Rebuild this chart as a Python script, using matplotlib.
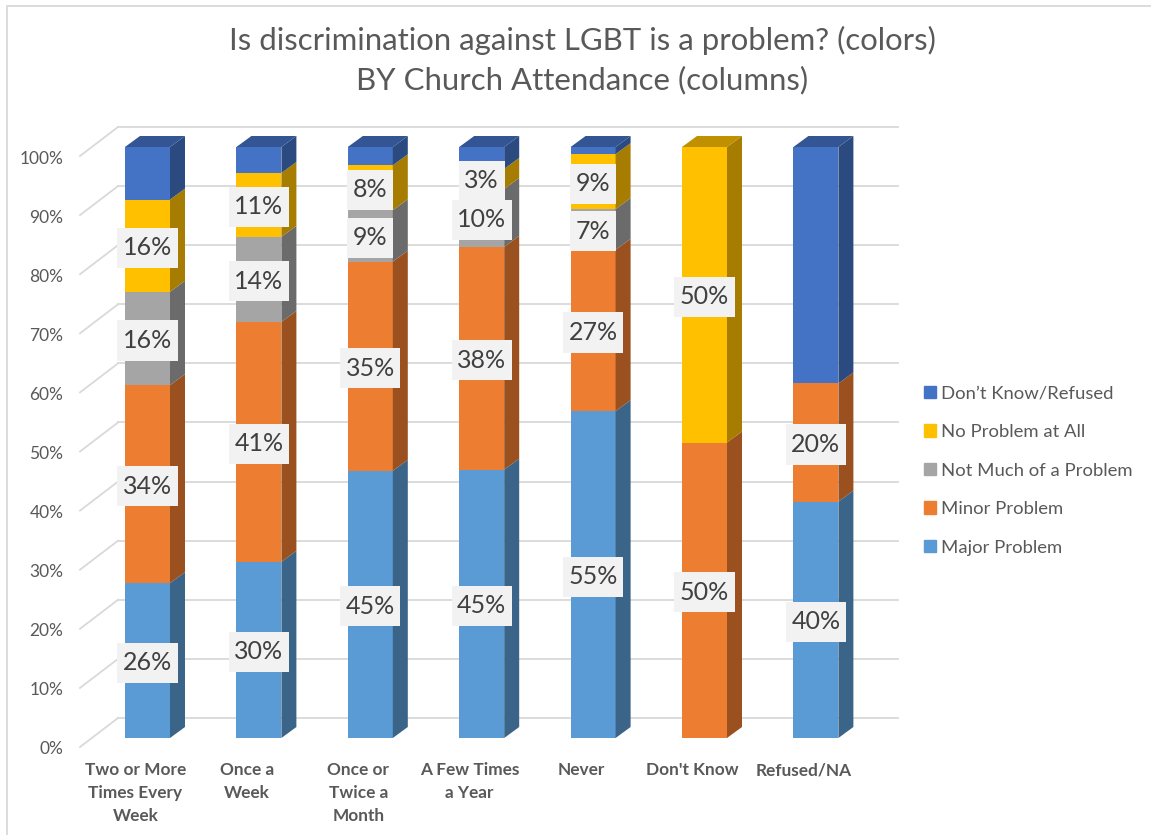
import matplotlib
matplotlib.use('Agg')
import matplotlib.pyplot as plt
import numpy as np
from matplotlib.patches import Patch, Rectangle

plt.rcParams['font.family'] = ['Lato', 'DejaVu Sans']

W, H = 1151, 835

categories = ['Two or More\nTimes Every\nWeek', 'Once a\nWeek', 'Once or\nTwice a\nMonth',
              'A Few Times\na Year', 'Never', "Don't Know", 'Refused/NA']
major = [26.2, 29.8, 45.2, 45.4, 55.3, 0, 40]
minor = [33.5, 40.6, 35.4, 37.7, 27.3, 50, 20]
not_much = [15.8, 14.4, 8.7, 9.8, 6.9, 0, 0]
no_problem = [15.6, 10.8, 7.6, 3.4, 9.3, 50, 0]
dont_know = [8.9, 4.4, 3.1, 3.7, 1.2, 0, 40]

series_names = ['Major Problem', 'Minor Problem', 'Not Much of a Problem',
                'No Problem at All', 'Don\u2019t Know/Refused']
series_values = [major, minor, not_much, no_problem, dont_know]
show_labels = [True, True, True, True, False]
# front, side, top
colors = [('#5B9BD5', '#3A6488', '#3F6E99'), ('#ED7D31', '#9A511F', '#B05C24'),
          ('#A5A5A5', '#6B6B6B', '#7C7C7C'), ('#FFC000', '#A67D00', '#BF9000'),
          ('#4472C4', '#2B4A80', '#335593')]
y_ticks = np.arange(0, 101, 10)

# pixel layout
PX_LEFT, PX_RIGHT = 80, 898
PX_BASE, PX_TOP = 738, 147
PX_BELOW = 12  # axes reach a bit under 0 so the 0% tick label stays in view
PX_X0, PX_STEP = 147.5, 111.4
PX_WIDTH = 45

fig = plt.figure(figsize=(W / 100, H / 100), dpi=100)
ax = fig.add_axes([PX_LEFT / W, 1 - (PX_BASE + PX_BELOW) / H, (PX_RIGHT - PX_LEFT) / W,
                   (PX_BASE + PX_BELOW - PX_TOP) / H])
xlim = ((PX_LEFT - PX_X0) / PX_STEP, (PX_RIGHT - PX_X0) / PX_STEP)
for s in ax.spines.values():
    s.set_visible(False)

# pixel -> data sizes
ux = 1 / PX_STEP
uy = 100 / (PX_BASE - PX_TOP)
bar_w = PX_WIDTH * ux
dx, dy = 15 * ux, 11 * uy
wall_dy = 20 * uy
floor_dy = 9 * uy
wall_x = PX_LEFT + 38

# walls
for v in y_ticks:
    ax.plot([xlim[0], (wall_x - PX_X0) / PX_STEP], [v - floor_dy, v + wall_dy],
            color='#D9D9D9', lw=1.3, clip_on=False, zorder=1)
    ax.plot([(wall_x - PX_X0) / PX_STEP, xlim[1]], [v + wall_dy, v + wall_dy],
            color='#D9D9D9', lw=1.3, clip_on=False, zorder=1)

x = np.arange(len(categories))
bottom = np.zeros(len(categories))
totals = np.sum(series_values, axis=0)
for vals, col, lab in zip(series_values, colors, show_labels):
    vals = np.array(vals, dtype=float)
    ax.bar(x, vals, bar_w, bottom=bottom, color=col[0], zorder=3, clip_on=False)
    for i, v in enumerate(vals):
        if v <= 0:
            continue
        b, t = bottom[i], bottom[i] + v
        xr = x[i] + bar_w / 2
        xl = x[i] - bar_w / 2
        ax.fill([xr, xr + dx, xr + dx, xr], [b, b + dy, t + dy, t], color=col[1], lw=0,
                zorder=3, clip_on=False)
        if t >= totals[i] - 0.01:
            ax.fill([xl, xl + dx, xr + dx, xr], [t, t + dy, t + dy, t], color=col[2], lw=0,
                    zorder=3, clip_on=False)
    bottom += vals

# data labels go last so none gets covered by a later segment
bottom = np.zeros(len(categories))
for vals, lab in zip(series_values, show_labels):
    for i, v in enumerate(vals):
        if lab and v > 0:
            ax.text(x[i], bottom[i] + v / 2 - 2 * uy, f'{v:.0f}%', ha='center', va='center', fontsize=18,
                    color='#404040', zorder=5, clip_on=False,
                    bbox=dict(boxstyle='square,pad=0.22', fc='#F2F2F2', ec='none', mutation_aspect=1.55))
    bottom += np.array(vals)

ax.set_xticks(x - 12 * ux, categories, fontsize=12.4, fontweight='bold', color='#595959', linespacing=1.53)
ax.set_yticks(y_ticks - 10 * uy, [f'{v}%' for v in y_ticks], fontsize=12.5, color='#595959')
# set the limits after the ticks, ticks below 0 would stretch them
ax.set_xlim(*xlim)
ax.set_ylim(-PX_BELOW * uy, 100)
ax.tick_params(axis='both', length=0)
ax.tick_params(axis='x', pad=8.9)
ax.tick_params(axis='y', pad=12)

handles = [Patch(color=c[0]) for c in colors][::-1]
fig.legend(handles, series_names[::-1], loc='center left', bbox_to_anchor=(907.5 / W, 1 - 470.5 / H),
           frameon=False, fontsize=13.3, labelcolor='#595959', handlelength=0.66, handleheight=0.66,
           handletextpad=0.25, labelspacing=1.22)

fig.text(582 / W, 1 - 60.5 / H, 'Is discrimination against LGBT is a problem? (colors)\nBY Church Attendance (columns)',
         ha='center', va='center', fontsize=22.4, color='#595959', linespacing=1.46)

fig.add_artist(Rectangle((6.5 / W, -0.01), 1.1, 1.01 - 5.5 / H, transform=fig.transFigure, fill=False,
                         ec='#D9D9D9', lw=1.3))

fig.savefig('out.png', dpi=100)
